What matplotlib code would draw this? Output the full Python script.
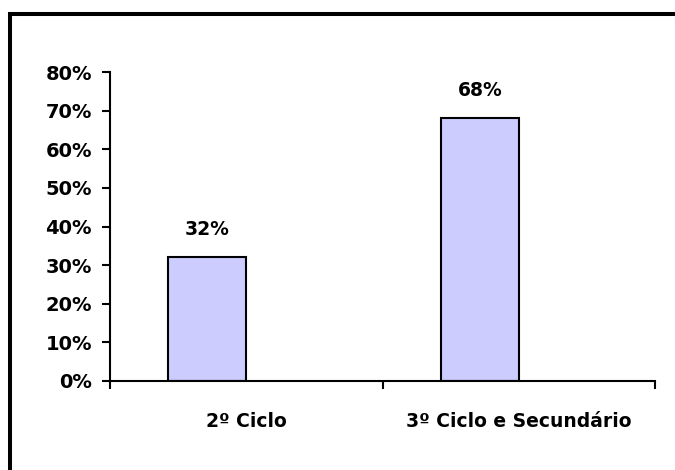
import matplotlib
matplotlib.use("Agg")
import matplotlib.pyplot as plt
from matplotlib.patches import Rectangle
from matplotlib.ticker import PercentFormatter, FixedLocator
import numpy as np

categories = ["2º Ciclo", "3º Ciclo e Secundário"]
values = [32, 68]
value_labels = ["32%", "68%"]
y_ticks = [0, 10, 20, 30, 40, 50, 60, 70, 80]

plt.rcParams["font.family"] = ["DejaVu Sans"]
plt.rcParams["font.weight"] = "bold"

W, H = 675, 470
fig = plt.figure(figsize=(W / 100, H / 100), dpi=100)

# outer chart frame (right and bottom edges run off the canvas)
fig.add_artist(Rectangle((10 / W, -0.2), 1.5, 1.2 - 14 / H,
                         transform=fig.transFigure, fill=False,
                         edgecolor="black", linewidth=2.9))

ax = fig.add_axes([110 / W, 1 - 381 / H, (655 - 110) / W, (381 - 72) / H])

x = np.arange(len(categories))
width = 1 / 3.5  # gap width 250%
# bars sit to the left of each category centre
bar_x = x - width / 2
ax.bar(bar_x, values, width, color="#CCCCFF", edgecolor="black", linewidth=1.5)

for bx, v, lab in zip(bar_x, values, value_labels):
    ax.annotate(lab, (bx, v), xytext=(0, 13), textcoords="offset points",
                ha="center", va="bottom", fontsize=13.5, fontweight="bold")

ax.set_xlim(-0.5, len(categories) - 0.5)
ax.set_ylim(0, 80)
ax.set_yticks(y_ticks)
ax.yaxis.set_major_formatter(PercentFormatter(decimals=0))

ax.set_xticks(x)
ax.set_xticklabels(categories)
ax.xaxis.set_minor_locator(FixedLocator(np.arange(len(categories) + 1) - 0.5))
ax.tick_params(axis="x", which="major", length=0, pad=22, labelsize=13.5)
ax.tick_params(axis="x", which="minor", length=6, width=1.5, direction="out")
ax.tick_params(axis="y", length=6, width=1.5, direction="out", pad=7, labelsize=14)

for t in ax.get_xticklabels() + ax.get_yticklabels():
    t.set_fontweight("bold")

ax.spines["top"].set_visible(False)
ax.spines["right"].set_visible(False)
ax.spines["left"].set_linewidth(1.5)
ax.spines["bottom"].set_linewidth(1.5)

fig.savefig("out.png", dpi=100)
